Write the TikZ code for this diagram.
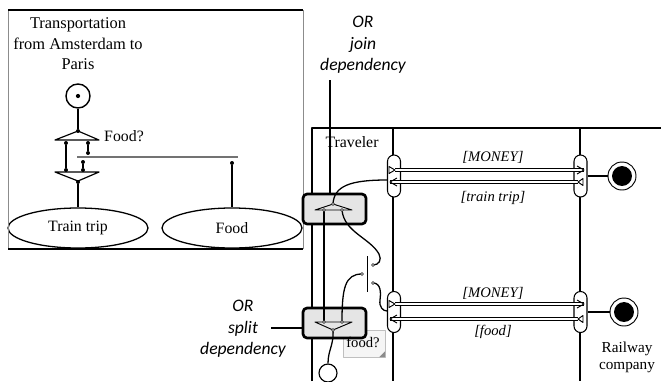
\documentclass[tikz,border=0pt]{standalone}
\usepackage{fontspec}
\setmainfont{Liberation Serif}
\newfontfamily\calloutfont{Carlito}
\usetikzlibrary{arrows.meta, positioning, shapes.geometric, calc}

\tikzset{
  txt/.style={font=\fontsize{13.5}{17.5}\selectfont, inner sep=0pt, align=center},
  msglbl/.style={font=\fontsize{12.5}{15}\selectfont\itshape, inner sep=0pt},
  callout/.style={font=\calloutfont\itshape\fontsize{15}{18.5}\selectfont, inner sep=0pt, align=center},
  goal/.style={ellipse, draw, line width=1.1pt, minimum width=4.2cm, minimum height=1.2cm, inner sep=0pt, font=\fontsize{13.5}{16}\selectfont},
  startev/.style={circle, draw, line width=1.2pt, minimum size=0.72cm, inner sep=0pt},
  endev/.style={circle, draw, line width=0.8pt, minimum size=0.84cm, inner sep=0pt},
  stopev/.style={circle, draw, line width=1pt, minimum size=0.54cm, inner sep=0pt},
  dot/.style={circle, fill, inner sep=0pt, minimum size=3.4pt},
  treeline/.style={line width=1.1pt},
  gatebox/.style={draw, line width=2.3pt, rounded corners=3.5pt, fill=black!10, minimum width=1.89cm, minimum height=0.9cm, inner sep=0pt},
  pill/.style={draw, line width=0.9pt, rounded corners=5.5pt, fill=white, minimum width=0.39cm, inner sep=0pt},
  gate/.style={line width=0.8pt},
  flow/.style={line width=1.1pt},
  msg/.style={double, double distance=1.2pt, line width=1.05pt},
  chevron/.style={line width=0.8pt},
  port/.style={circle, draw, fill=white, line width=0.5pt, inner sep=0pt, minimum size=2.6pt},
  lane/.style={line width=0.9pt},
  lanethick/.style={line width=2pt},
  notebox/.style={draw=black!25, fill=black!4, minimum width=1.26cm, minimum height=0.81cm, inner sep=0pt}
}

\begin{document}
\begin{tikzpicture}[x=0.03cm, y=-0.03cm, line join=round]
  \useasboundingbox (0,0) rectangle (661,381);
  \clip (0,0) rectangle (661,381);

  % inset: goal tree
  \fill[white] (8,10) rectangle (303,249);
  \node[txt, font=\fontsize{14}{17.5}\selectfont] (title) at (78,44) {Transportation\\from Amsterdam to\\Paris};
  \node[startev] (start) at (78,96) {};
  \fill (start.center) circle (1.8pt);
  \node[dot] (d0) at (78,131) {};
  \draw[treeline] (start) -- (d0);
  \draw[gate, line width=1pt] (55,140) -- (d0.center) -- (99,140) -- cycle;
  \node[txt, anchor=west] (foodQ) at (104,136) {Food?};
  \node[dot] (a1) at (66,143) {};
  \node[dot] (a2) at (66,170) {};
  \draw[treeline] (a1) -- (a2);
  \node[dot] (b1) at (88,143) {};
  \node[dot] (b2) at (88,153) {};
  \draw[treeline] (b1) -- (b2);
  \coordinate (barL) at (77,157);
  \coordinate (barR) at (238,157);
  \draw[black!55, line width=1.3pt] (barL) -- (barR);
  \node[dot] (c1) at (83,162) {};
  \node[dot] (c2) at (83,170) {};
  \draw[treeline] (c1) -- (c2);
  \draw[gate, line width=1pt] (55,172) -- (99,172) -- (78,181) -- cycle;
  \node[dot] (d1) at (78,182) {};
  \node[goal] (trip) at (78,228) {Train trip};
  \node[goal] (food) at (232,228) {Food};
  \draw[treeline] (d1) -- (trip);
  \node[dot] (e1) at (232,163) {};
  \draw[treeline] (e1) -- (food);
  \draw[black!45, line width=0.5pt] (8,10) -- (8,249) (303,10) -- (303,249);
  \draw[line width=0.9pt] (8,10) -- (303,10);
  \draw[line width=1.2pt] (8,249) -- (303,249);

  % swimlanes
  \draw[lanethick] (312,381) -- (312,128) -- (393,128);
  \draw[lane] (393,128) -- (393,381);
  \draw[lane] (393,128) -- (580,128);
  \draw[lane] (580,128) -- (580,381);
  \draw[lanethick] (580,128) -- (661,128);
  \node[txt] (traveler) at (352,142) {Traveler};
  \node[txt, font=\fontsize{13}{14.5}\selectfont] (railway) at (627,357) {Railway\\company};

  % pointer labels
  \node[callout] (orJoin) at (363,45) {OR\\join\\dependency};
  \node[callout] (orSplit) at (243,329) {OR\\split\\dependency};
  \coordinate (joinTip) at (330,80);
  \coordinate (splitTip) at (271,328);

  % interaction points
  \node[pill, minimum height=1.26cm] (pTA) at (394,176) {};
  \node[pill, minimum height=1.26cm] (pTB) at (580.5,176) {};
  \node[pill, minimum height=1.23cm] (pBA) at (394,312) {};
  \node[pill, minimum height=1.23cm] (pBB) at (580.5,312) {};

  % messages
  \coordinate (m1s) at ($(pTA.center)+(1,-6)$);
  \coordinate (m1e) at ($(pTB.center)+(3.5,-6)$);
  \coordinate (m2s) at ($(pTB.center)+(-2.5,6)$);
  \coordinate (m2e) at ($(pTA.center)+(-4,6)$);
  \coordinate (m3s) at ($(pBA.center)+(1,-8)$);
  \coordinate (m3e) at ($(pBB.center)+(3.5,-8)$);
  \coordinate (m4s) at ($(pBB.center)+(-2.5,7)$);
  \coordinate (m4e) at ($(pBA.center)+(-4,7)$);
  \foreach \s/\e in {m1s/m1e, m2s/m2e, m3s/m3e, m4s/m4e}
    \draw[msg] (\s) -- (\e);
  \foreach \e in {m1e, m3e}
    \draw[chevron] ($(\e)+(-7,-4)$) -- (\e) -- ($(\e)+(-7,4)$);
  \foreach \e in {m2e, m4e}
    \draw[chevron] ($(\e)+(7,-4)$) -- (\e) -- ($(\e)+(7,4)$);
  \foreach \s in {m1s, m3s}
    \draw[chevron, fill=white] ($(\s)+(-6,-3.5)$) -- (\s) -- ($(\s)+(-6,3.5)$) -- cycle;
  \foreach \s in {m2s, m4s}
    \draw[chevron, fill=white] ($(\s)+(5,-3.5)$) -- (\s) -- ($(\s)+(5,3.5)$) -- cycle;
  \node[msglbl] (money1) at (493,157) {[MONEY]};
  \node[msglbl] (trip1) at (493,198) {[train trip]};
  \node[msglbl] (money2) at (493,293) {[MONEY]};
  \node[msglbl] (food2) at (493,332) {[food]};

  % railway end points
  \node[endev] (endT) at (622,176) {};
  \fill (endT.center) circle (8.5pt);
  \node[endev] (endB) at (624,312) {};
  \fill (endB.center) circle (8.5pt);
  \draw[flow] (pTB.east) -- (endT);
  \draw[flow] (pBB.east) -- (endB);

  % OR join / split
  \draw[lanethick] (joinTip) -- (joinTip |- 0,200);
  \draw[lanethick] (splitTip) -- (310,328);
  \node[notebox] (foodNote) at (364,343.5) {};
  \fill[black!45] ($(foodNote.south east)+(-6,0)$) -- ($(foodNote.south east)+(0,-6)$) -- (foodNote.south east) -- cycle;
  \node[gatebox] (joinBox) at (334.5,209) {};
  \node[gatebox] (splitBox) at (334.5,323) {};
  \node[txt, font=\fontsize{12.5}{15}\selectfont] (foodLbl) at (363,342) {food?};

  \coordinate (jA) at (333,204);
  \coordinate (jL) at (324,210);
  \coordinate (jR) at (342,210);
  \draw[gate] (315,210) -- (jA) -- (352,210) -- cycle;
  \coordinate (sA) at (333,330);
  \coordinate (sL) at (324,322);
  \coordinate (sR) at (342,322);
  \draw[gate] (315,322) -- (sA) -- (352,322) -- cycle;

  % exclusive bar
  \coordinate (xT) at (367,256);
  \coordinate (xB) at (367,292);
  \draw[gate] (xT) -- (xB);
  \coordinate (xU) at (373,265);
  \coordinate (xL) at (362,274);
  \coordinate (xD) at (373,283);

  % flows
  \coordinate (pTAin) at ($(pTA.west)+(0,4)$);
  \coordinate (pBAin) at ($(pBA.west)+(0,-1)$);
  \node[stopev] (stop) at (328,373) {};
  \draw[flow] (jL) -- (sL);
  \draw[flow] (jA) .. controls (334,186) and (350,180) .. (pTAin);
  \draw[flow] (jR) .. controls (344,232) and (370,238) .. (379,254) .. controls (382,260) and (379,265) .. (xU);
  \draw[flow] (sR) .. controls (342,288) and (345,274) .. (xL);
  \draw[flow] (xD) .. controls (381,283) and (381,293) .. (380,300) .. controls (379,307) and (383,311) .. (pBAin);
  \draw[flow] (sA) .. controls (334,345) and (328,350) .. (stop.north);
  \foreach \p in {jA, jL, jR, sA, sL, sR, xU, xL, xD}
    \node[port] at (\p) {};
\end{tikzpicture}
\end{document}
